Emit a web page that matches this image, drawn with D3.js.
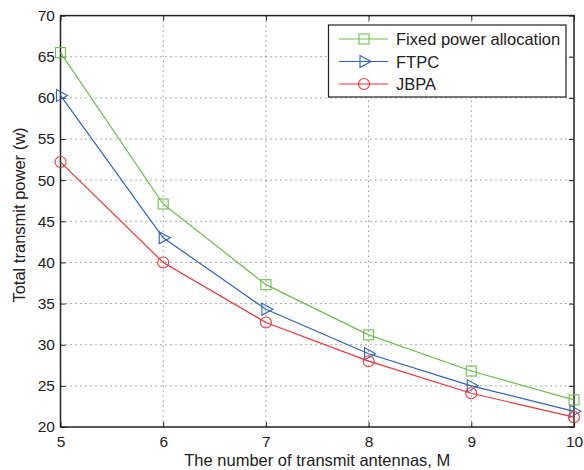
<!DOCTYPE html>
<html><head><meta charset="utf-8">
<script src="https://cdn.jsdelivr.net/npm/d3@7"></script>
<style>body{margin:0;background:#fff}svg{display:block}text{font-family:"Liberation Sans",Arial,sans-serif;fill:#222}</style>
</head><body>
<svg id="c" width="584" height="470"></svg>
<script>
const antennas = [5, 6, 7, 8, 9, 10];
const fixedPower = [65.5, 47.1, 37.3, 31.2, 26.8, 23.3];
const ftpc = [60.3, 43.0, 34.3, 28.9, 25.0, 21.9];
const jbpa = [52.2, 40.0, 32.7, 28.0, 24.1, 21.2];
const yTicks = [20, 25, 30, 35, 40, 45, 50, 55, 60, 65, 70];
const xTicks = [5, 6, 7, 8, 9, 10];
const seriesNames = ["Fixed power allocation", "FTPC", "JBPA"];

const svg = d3.select("#c");
const m = {l: 60.5, r: 574, t: 15.6, b: 427};
const x = d3.scaleLinear().domain([5, 10]).range([m.l, m.r]);
const y = d3.scaleLinear().domain([20, 70]).range([m.b, m.t]);

// grid
const g = svg.append("g");
g.selectAll(".gx").data(xTicks.slice(1, -1)).join("line")
  .attr("x1", d => x(d)).attr("x2", d => x(d)).attr("y1", m.t).attr("y2", m.b)
  .attr("stroke", "#555").attr("stroke-width", 1).attr("stroke-dasharray", "1,4");
g.selectAll(".gy").data(yTicks.slice(1, -1)).join("line")
  .attr("y1", d => y(d)).attr("y2", d => y(d)).attr("x1", m.l).attr("x2", m.r)
  .attr("stroke", "#555").attr("stroke-width", 1).attr("stroke-dasharray", "1,4");

// axes
const ax = svg.append("g").attr("transform", `translate(0,${m.b})`)
  .call(d3.axisBottom(x).tickValues(xTicks).tickSize(-5).tickPadding(9).tickFormat(d3.format("d")));
const axT = svg.append("g").attr("transform", `translate(0,${m.t})`)
  .call(d3.axisTop(x).tickValues(xTicks).tickSize(-5).tickFormat(""));
const ay = svg.append("g").attr("transform", `translate(${m.l},0)`)
  .call(d3.axisLeft(y).tickValues(yTicks).tickSize(-5).tickPadding(5.5).tickFormat(d3.format("d")));
const ayR = svg.append("g").attr("transform", `translate(${m.r},0)`)
  .call(d3.axisRight(y).tickValues(yTicks).tickSize(-5).tickFormat(""));
[ax, axT, ay, ayR].forEach(a => {
  a.select(".domain").remove();
  a.selectAll("line").attr("stroke", "#222");
  a.selectAll("text").style("font-size", "15.5px").attr("fill", "#222");
});
svg.append("rect").attr("x", m.l).attr("y", m.t).attr("width", m.r - m.l).attr("height", m.b - m.t)
  .attr("fill", "none").attr("stroke", "#222").attr("stroke-width", 1.5);

// labels
svg.append("text").attr("x", (m.l + m.r) / 2).attr("y", 466).attr("text-anchor", "middle")
  .style("font-size", "16.5px").text("The number of transmit antennas, M");
svg.append("text").attr("transform", `translate(25,215) rotate(-90)`).attr("text-anchor", "middle")
  .style("font-size", "16.5px").text("Total transmit power (w)");

const colors = ["#6cc04a", "#2f62b8", "#ee3338"];
const datasets = [fixedPower, ftpc, jbpa];
const line = d3.line().x((d, i) => x(antennas[i])).y(d => y(d));

function marker(sel, k, cx, cy) {
  if (k === 0) sel.append("rect").attr("x", cx - 5).attr("y", cy - 5).attr("width", 10).attr("height", 10)
    .attr("fill", "none").attr("stroke", colors[k]).attr("stroke-width", 1.1);
  else if (k === 1) sel.append("path").attr("d", `M${cx - 4},${cy - 6}L${cx + 7},${cy}L${cx - 4},${cy + 6}Z`)
    .attr("fill", "none").attr("stroke", colors[k]).attr("stroke-width", 1.1);
  else sel.append("circle").attr("cx", cx).attr("cy", cy).attr("r", 5.5)
    .attr("fill", "none").attr("stroke", colors[k]).attr("stroke-width", 1.1);
}

datasets.forEach((ds, k) => {
  const sg = svg.append("g");
  sg.append("path").attr("d", line(ds)).attr("fill", "none").attr("stroke", colors[k]).attr("stroke-width", 1.2);
  ds.forEach((v, i) => marker(sg, k, x(antennas[i]), y(v)));
});

// legend
const lg = svg.append("g");
lg.append("rect").attr("x", 328.5).attr("y", 25).attr("width", 237.5).attr("height", 72)
  .attr("fill", "#fff").attr("stroke", "#222").attr("stroke-width", 1.2);
const rowsY = [39, 61.5, 84];
seriesNames.forEach((n, k) => {
  const yy = rowsY[k];
  lg.append("line").attr("x1", 339).attr("x2", 388).attr("y1", yy).attr("y2", yy)
    .attr("stroke", colors[k]).attr("stroke-width", 1.2);
  marker(lg, k, 364, yy);
  lg.append("text").attr("x", 396).attr("y", yy + 6).style("font-size", "16.5px").text(n);
});
</script>
</body></html>
